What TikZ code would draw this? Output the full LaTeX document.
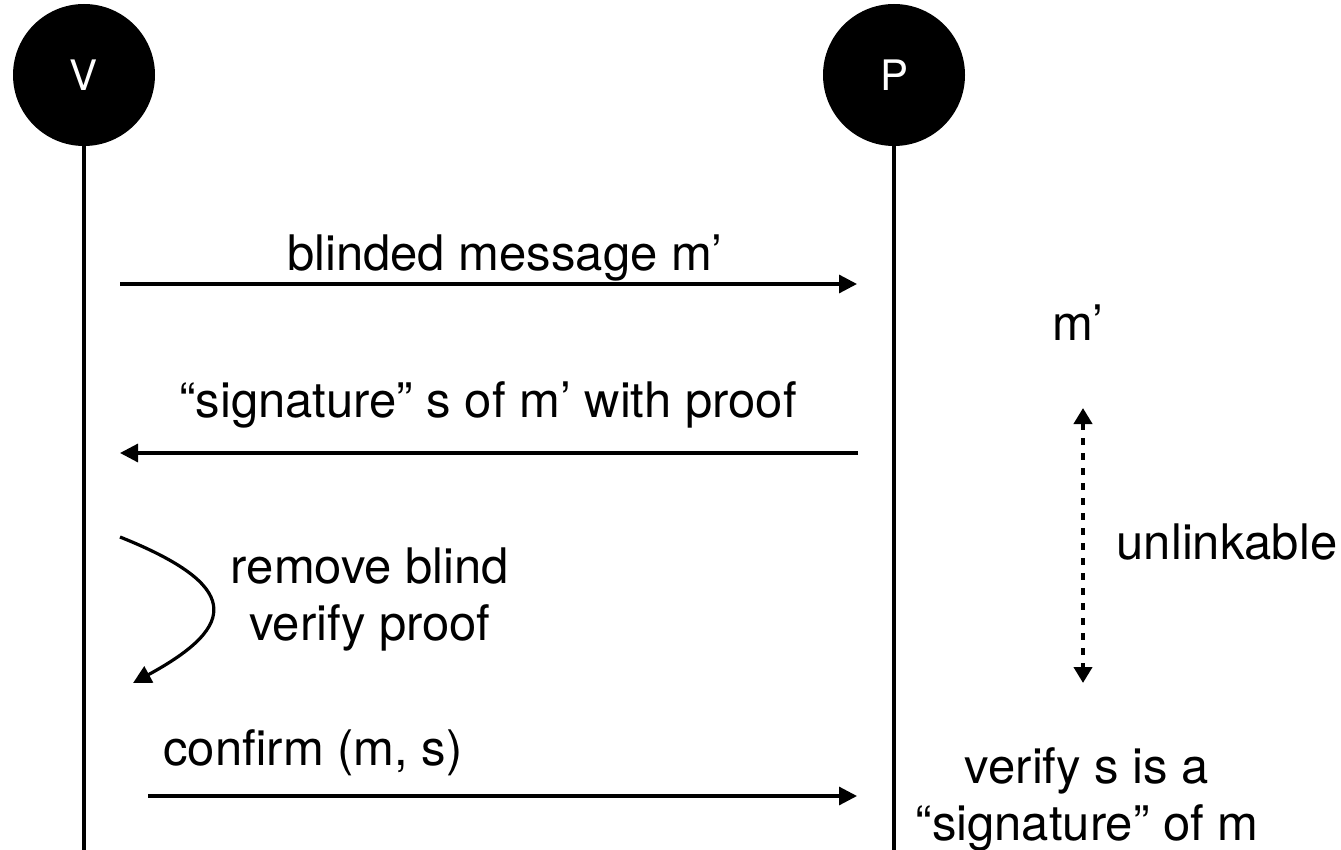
\documentclass[tikz,border=0pt]{standalone}
\usepackage{fontspec}
\setmainfont{TeX Gyre Heros}
\usetikzlibrary{arrows.meta}
\begin{document}
\begin{tikzpicture}[x=1pt,y=-1pt,
  actor/.style={circle,fill=black,minimum size=142pt,inner sep=0pt,text=white,font=\fontsize{42}{48}\selectfont},
  lifeline/.style={line width=3.2pt},
  msg/.style={line width=3.2pt,-{Triangle[length=18pt,width=18pt]}},
  lbl/.style={inner sep=0pt,anchor=base,font=\fontsize{49}{57}\selectfont},
  mlbl/.style={inner sep=0pt,align=center,font=\fontsize{49}{57}\selectfont},
  dotarrow/.style={line width=4pt,dash pattern=on 7pt off 8pt,{Triangle[length=16pt,width=18pt]}-{Triangle[length=16pt,width=18pt]}}
]
\useasboundingbox (0,0) rectangle (1341,850);
\node[actor] (V) at (84,75) {V};
\node[actor] (P) at (894,75) {P};
\coordinate (Vend) at (84,850);
\coordinate (Pend) at (894,850);
\draw[lifeline] (V.south) -- (Vend);
\draw[lifeline] (P.south) -- (Pend);
% message 1
\coordinate (m1s) at (120,284);
\coordinate (m1e) at (857,284);
\draw[msg] (m1s) -- (m1e);
\node[lbl] (t1) at (505,271) {blinded message m’};
% message 2
\coordinate (m2s) at (858,453);
\coordinate (m2e) at (120,453);
\draw[msg] (m2s) -- (m2e);
\node[lbl] (t2) at (488,417) {“signature” s of m’ with proof};
% local step
\coordinate (c1) at (120,537);
\coordinate (c2) at (133,683);
\draw[msg] (c1) .. controls (240,585) and (240,625) .. (c2);
\node[mlbl,anchor=base] (t3) at (370,640) {remove blind\\verify proof};
% message 3
\coordinate (m3s) at (148,796);
\coordinate (m3e) at (857,796);
\draw[msg] (m3s) -- (m3e);
\node[lbl] (t4) at (313,765) {confirm (m, s)};
% right side
\node[lbl] (t5) at (1078,341) {m’};
\coordinate (u1) at (1083,408);
\coordinate (u2) at (1083,683);
\draw[dotarrow] (u1) -- (u2);
\node[lbl] (t6) at (1227,559) {unlinkable};
\node[mlbl,anchor=base] (t7) at (1087,840) {verify s is a\\“signature” of m};
\end{tikzpicture}
\end{document}
